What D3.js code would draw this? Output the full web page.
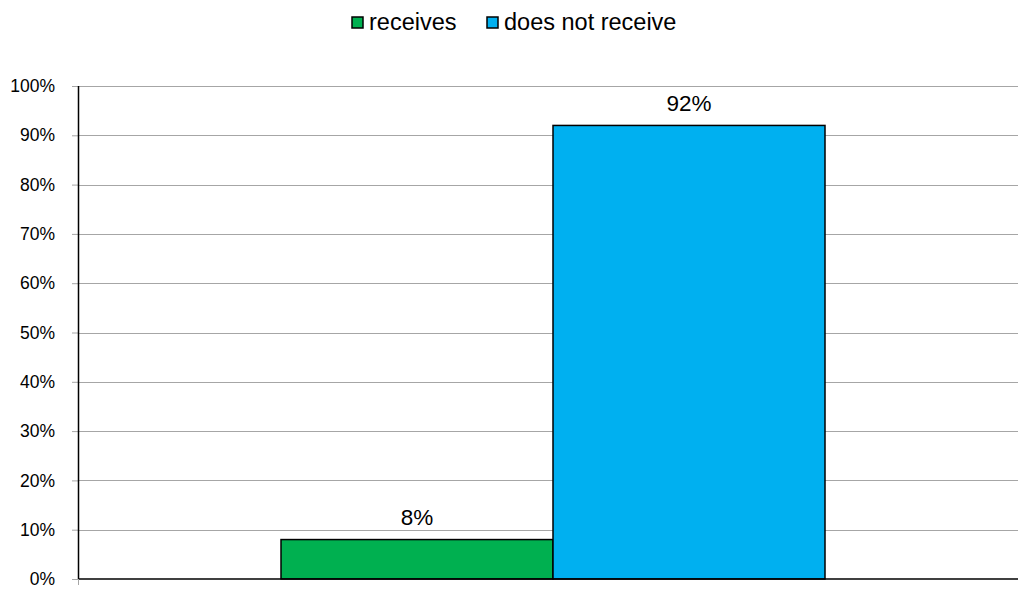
<!DOCTYPE html>
<html>
<head>
<meta charset="utf-8">
<script src="https://cdn.jsdelivr.net/npm/d3@7"></script>
<style>
  html, body { margin: 0; padding: 0; background: #fff; }
  svg { display: block; font-family: "Liberation Sans", Arial, sans-serif; }
</style>
</head>
<body>
<svg id="chart" width="1018" height="589"></svg>
<script>
// Share of respondents who receive vs. do not receive
const seriesNames = ["receives", "does not receive"];
const seriesValues = [8, 92];
const seriesColors = ["#00b050", "#00b0f0"];
const yTicks = [0, 10, 20, 30, 40, 50, 60, 70, 80, 90, 100];

const svg = d3.select("#chart");
const margin = { left: 78, right: 0, top: 86, bottom: 10 };
const width = 1018, height = 589;
const plotBottom = 579;

const y = d3.scaleLinear().domain([0, 100]).range([plotBottom, margin.top]);
// single category group split into two adjacent bars
const x = d3.scaleBand().domain(seriesNames).range([281, 825]).padding(0);

// gridlines
svg.append("g")
  .selectAll("line")
  .data(yTicks.filter(d => d > 0))
  .join("line")
  .attr("x1", margin.left).attr("x2", width)
  .attr("y1", d => Math.round(y(d)) + 0.5).attr("y2", d => Math.round(y(d)) + 0.5)
  .attr("stroke", "#a6a6a6").attr("stroke-width", 1);

// y axis
const yAxis = d3.axisLeft(y).tickValues(yTicks).tickFormat(d => d + "%").tickSize(6).tickPadding(17);
const yg = svg.append("g").attr("transform", `translate(${margin.left},0)`).call(yAxis);
yg.select(".domain").remove();
yg.selectAll(".tick line").attr("stroke", "#a6a6a6");
yg.selectAll(".tick text").attr("font-size", 17.5).attr("fill", "#000")
  .attr("font-family", "Liberation Sans, Arial, sans-serif");

// bars
svg.append("g")
  .selectAll("rect")
  .data(seriesValues)
  .join("rect")
  .attr("x", (d, i) => x(seriesNames[i]))
  .attr("y", d => y(d))
  .attr("width", x.bandwidth())
  .attr("height", d => plotBottom - y(d))
  .attr("fill", (d, i) => seriesColors[i])
  .attr("stroke", "#000").attr("stroke-width", 1.5);

// value labels
svg.append("g")
  .selectAll("text")
  .data(seriesValues)
  .join("text")
  .attr("x", (d, i) => x(seriesNames[i]) + x.bandwidth() / 2)
  .attr("y", d => y(d) - 14.5)
  .attr("text-anchor", "middle")
  .attr("font-size", 22.5)
  .attr("fill", "#000")
  .text(d => d + "%");

// axis lines
svg.append("line")
  .attr("x1", margin.left + 0.5).attr("x2", margin.left + 0.5)
  .attr("y1", margin.top).attr("y2", plotBottom)
  .attr("stroke", "#000").attr("stroke-width", 1.5);
svg.append("line")
  .attr("x1", margin.left).attr("x2", width)
  .attr("y1", plotBottom).attr("y2", plotBottom)
  .attr("stroke", "#000").attr("stroke-width", 1.5);
svg.append("line")
  .attr("x1", margin.left + 0.5).attr("x2", margin.left + 0.5)
  .attr("y1", plotBottom).attr("y2", plotBottom + 6)
  .attr("stroke", "#a6a6a6").attr("stroke-width", 1);

// legend
const legendItems = [
  { name: seriesNames[0], color: seriesColors[0], x: 352 },
  { name: seriesNames[1], color: seriesColors[1], x: 487 }
];
const lg = svg.append("g");
legendItems.forEach(item => {
  lg.append("rect")
    .attr("x", item.x).attr("y", 17)
    .attr("width", 11).attr("height", 11)
    .attr("fill", item.color).attr("stroke", "#000").attr("stroke-width", 1.5);
  lg.append("text")
    .attr("x", item.x + 17).attr("y", 30)
    .attr("font-size", 23.5).attr("fill", "#000")
    .text(item.name);
});
</script>
</body>
</html>
